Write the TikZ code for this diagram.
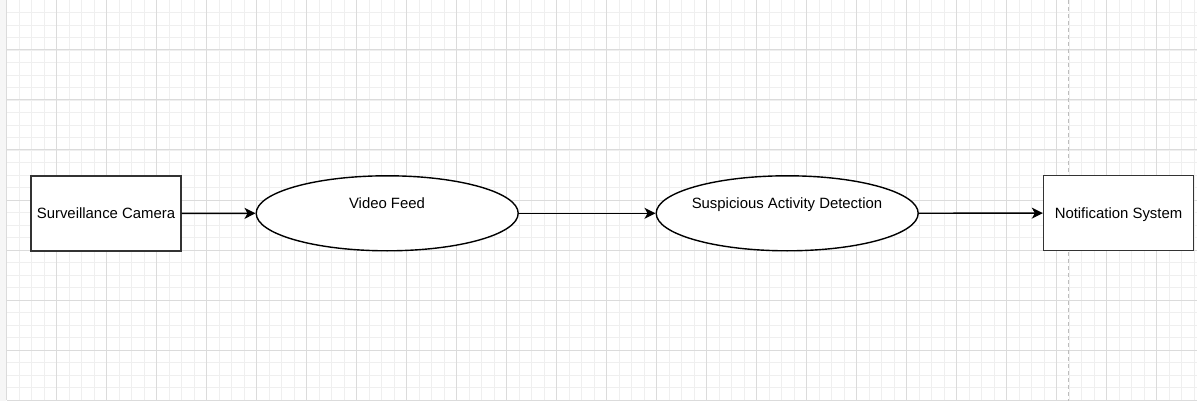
\documentclass[tikz,border=0pt]{standalone}
\usepackage{fontspec}
\setmainfont{Liberation Sans}
\usetikzlibrary{shapes.geometric,arrows.meta}
\definecolor{minorgrid}{HTML}{EFEFEF}
\definecolor{majorgrid}{HTML}{DBDBDB}
\definecolor{boxborder}{HTML}{333333}
\definecolor{dashcol}{HTML}{BDBDBD}
\tikzset{
  lbl/.style={font=\fontsize{14.9}{17}\selectfont, text height=10.7pt, text depth=0pt, inner sep=0pt},
  procbox/.style={draw=boxborder, line width=1.4pt, fill=white, minimum width=150pt, minimum height=75pt, inner sep=0pt, lbl},
  procell/.style={ellipse, draw=black, line width=1.4pt, fill=white, minimum width=262pt, minimum height=75pt, inner sep=0pt},
  flow/.style={line width=1.4pt, -{Stealth[length=11pt,width=11pt,inset=3pt]}}
}
\begin{document}
\begin{tikzpicture}[x=1pt,y=-1pt]
  \useasboundingbox (0,0) rectangle (1197,401);
  \fill[white] (0,0) rectangle (1197,401);
  \fill[gray!7] (0,0) rectangle (6,401);
  % minor grid
  \foreach \k in {0,...,95} {
    \draw[minorgrid, line width=0.9pt] ({6.7+12.5*\k},0) -- ({6.7+12.5*\k},400);
  }
  \foreach \k in {1,...,32} {
    \draw[minorgrid, line width=0.9pt] (6.7,{12.5*\k}) -- (1197,{12.5*\k});
  }
  % major grid
  \foreach \k in {0,...,23} {
    \draw[majorgrid, line width=1pt] ({6.7+50*\k},0) -- ({6.7+50*\k},400);
  }
  \foreach \k in {1,...,8} {
    \draw[majorgrid, line width=1pt] (6.7,{50*\k}) -- (1197,{50*\k});
  }
  % page break dashed line
  \draw[dashcol, line width=1.2pt, dash pattern=on 4pt off 3pt] (1068.3,0) -- (1068.3,401);

  % nodes
  \node[procbox] (cam) at (106,213.4) {Surveillance Camera};
  \node[procell] (vf) at (387.2,213.3) {};
  \node[lbl] (vft) at (387,203.6) {Video Feed};
  \node[procell] (sad) at (787.2,213.3) {};
  \node[lbl] (sadt) at (787,203.6) {Suspicious Activity Detection};
  \node[procbox] (ns) at (1118.5,213.1) {Notification System};

  % connectors
  \draw[flow] (cam) -- (vf);
  \draw[flow] (vf) -- (sad);
  \draw[flow] (sad) -- (ns);
\end{tikzpicture}
\end{document}
